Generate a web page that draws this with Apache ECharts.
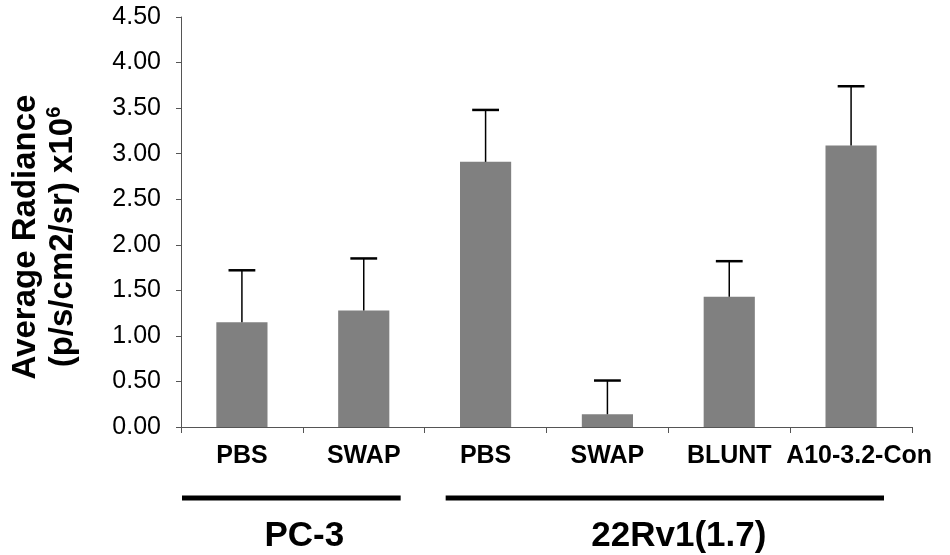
<!DOCTYPE html>
<html>
<head>
<meta charset="utf-8">
<script src="https://cdn.jsdelivr.net/npm/echarts@6/dist/echarts.min.js"></script>
<style>
html,body{margin:0;padding:0;background:#fff;}
#chart{width:950px;height:555px;}
</style>
</head>
<body>
<div id="chart"></div>
<script>
// ---- data ----
const categories = ['PBS', 'SWAP', 'PBS', 'SWAP', 'BLUNT', 'A10-3.2-Con'];
const means = [1.15, 1.28, 2.91, 0.14, 1.43, 3.09];
const errors = [0.57, 0.57, 0.57, 0.37, 0.39, 0.65];
const yTicks = { min: 0, max: 4.5, interval: 0.5 };
const groups = [
  { label: 'PC-3', from: 0, to: 1 },
  { label: '22Rv1(1.7)', from: 2, to: 5 }
];

// ---- style ----
const FONT = "'Liberation Sans', Arial, Helvetica, sans-serif";
const groupInsets = [[1, 24], [21, 28]];
const groupLabelShift = [13, 14];

const chart = echarts.init(document.getElementById('chart'), null, { renderer: 'canvas' });

const option = {
  animation: false,
  backgroundColor: '#fff',
  grid: { left: 181, right: 38, top: 17, bottom: 128 },
  xAxis: {
    type: 'category',
    data: categories.map((c, i) => i === categories.length - 1
      ? { value: c, textStyle: { padding: [0, 0, 0, 16] } }
      : c),
    axisLine: { lineStyle: { color: '#555', width: 1 } },
    axisTick: { show: true, length: 6, lineStyle: { color: '#555' } },
    axisLabel: {
      interval: 0,
      margin: 17,
      color: '#000',
      fontFamily: FONT,
      fontWeight: 'bold',
      fontSize: 25
    }
  },
  yAxis: {
    type: 'value',
    min: yTicks.min,
    max: yTicks.max,
    interval: yTicks.interval,
    splitLine: { show: false },
    axisLine: { show: true, lineStyle: { color: '#555', width: 1 } },
    axisTick: { show: true, length: 5, lineStyle: { color: '#555' } },
    axisLabel: {
      margin: 20,
      color: '#000',
      fontFamily: FONT,
      fontSize: 25,
      formatter: v => v.toFixed(2)
    },
    name: '{t|Average Radiance}\n{t|(p/s/cm2/sr) x10}{s|6}',
    nameLocation: 'middle',
    nameRotate: 90,
    nameGap: 100,
    nameTextStyle: {
      padding: [0, 30, 0, 0],
      rich: {
        t: { fontFamily: FONT, fontWeight: 'bold', fontSize: 33, color: '#000', lineHeight: 37 },
        s: { fontFamily: FONT, fontWeight: 'bold', fontSize: 20, color: '#000', lineHeight: 37, verticalAlign: 'top', padding: [0, 0, 14, 0] }
      }
    }
  },
  series: [
    {
      type: 'bar',
      data: means,
      barWidth: '42%',
      itemStyle: { color: '#808080' }
    },
    {
      type: 'custom',
      data: means.map((m, i) => [i, m, errors[i]]),
      z: 5,
      renderItem: function (params, api) {
        const i = api.value(0), m = api.value(1), e = api.value(2);
        const base = api.coord([i, m]);
        const top = api.coord([i, m + e]);
        const w = api.size([1, 0])[0] * 0.22;
        return {
          type: 'group',
          children: [
            { type: 'line', shape: { x1: base[0], y1: base[1], x2: top[0], y2: top[1] }, style: { stroke: '#000', lineWidth: 1.5 } },
            { type: 'line', shape: { x1: top[0] - w / 2, y1: top[1], x2: top[0] + w / 2, y2: top[1] }, style: { stroke: '#000', lineWidth: 2.5 } }
          ]
        };
      }
    }
  ]
};
chart.setOption(option);

// group brackets from category axis positions
function drawGroups() {
  const c0 = chart.convertToPixel({ xAxisIndex: 0 }, 0);
  const c1 = chart.convertToPixel({ xAxisIndex: 0 }, 1);
  const cw = c1 - c0;
  const axisY = chart.convertToPixel({ yAxisIndex: 0 }, 0);
  const elements = [];
  groups.forEach((g, k) => {
    const left = chart.convertToPixel({ xAxisIndex: 0 }, g.from) - cw / 2 + groupInsets[k][0];
    const right = chart.convertToPixel({ xAxisIndex: 0 }, g.to) + cw / 2 - groupInsets[k][1];
    elements.push({
      type: 'rect',
      shape: { x: left, y: axisY + 68.5, width: right - left, height: 5 },
      style: { fill: '#000' }
    });
    elements.push({
      type: 'text',
      x: (left + right) / 2 + groupLabelShift[k],
      y: axisY + 109,
      style: {
        text: g.label,
        fill: '#000',
        font: 'bold 35px ' + FONT,
        align: 'center',
        verticalAlign: 'middle'
      }
    });
  });
  chart.setOption({ graphic: elements });
}
drawGroups();
</script>
</body>
</html>
